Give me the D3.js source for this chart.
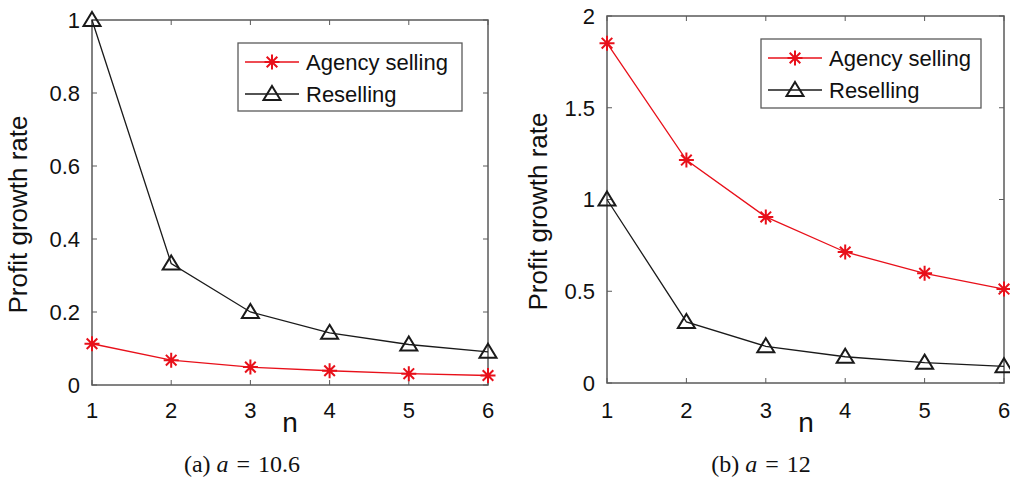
<!DOCTYPE html>
<html>
<head>
<meta charset="utf-8">
<script src="https://cdn.jsdelivr.net/npm/d3@7"></script>
<style>
  html, body { margin: 0; padding: 0; background: #fff; }
  svg { display: block; }
  text { font-family: "Liberation Sans", Arial, sans-serif; fill: #111; }
  .caption { font-family: "Liberation Serif", "DejaVu Serif", serif; }
</style>
</head>
<body>
<svg id="chart" width="1010" height="481"></svg>
<script>
// values
const nValues = [1, 2, 3, 4, 5, 6]
const seriesNames = ['Agency selling', 'Reselling']
const agencyA = [0.113, 0.068, 0.049, 0.039, 0.031, 0.026]
const resellA = [1, 0.333, 0.2, 0.143, 0.111, 0.091]
const agencyB = [1.852, 1.215, 0.905, 0.714, 0.598, 0.512]
const resellB = [1, 0.333, 0.2, 0.143, 0.111, 0.091]
const yTicksA = [0, 0.2, 0.4, 0.6, 0.8, 1]
const yTicksB = [0, 0.5, 1, 1.5, 2]
const captions = [['(a) ', 'a', '=', '10.6'], ['(b) ', 'a', '=', '12']]

const RED = '#e8101a'
const BLACK = '#1a1a1a'
const AXIS = '#5a5a5a'

const svg = d3.select('#chart')

function panel (opt) {
  const x = d3.scaleLinear().domain([1, 6]).range([opt.left, opt.right])
  const y = d3.scaleLinear().domain(opt.yDomain).range([opt.bottom, opt.top])
  const g = svg.append('g')

  // box + ticks
  g.append('rect')
    .attr('x', opt.left).attr('y', opt.top)
    .attr('width', opt.right - opt.left).attr('height', opt.bottom - opt.top)
    .attr('fill', 'none').attr('stroke', AXIS).attr('stroke-width', 1.5)

  const tl = 5
  nValues.forEach(v => {
    g.append('line').attr('x1', x(v)).attr('x2', x(v)).attr('y1', opt.bottom).attr('y2', opt.bottom - tl).attr('stroke', AXIS)
    g.append('line').attr('x1', x(v)).attr('x2', x(v)).attr('y1', opt.top).attr('y2', opt.top + tl).attr('stroke', AXIS)
    g.append('text').attr('x', x(v)).attr('y', 418).attr('text-anchor', 'middle')
      .style('font-size', '22px').text(v)
  })
  opt.yTicks.forEach(v => {
    g.append('line').attr('x1', opt.left).attr('x2', opt.left + tl).attr('y1', y(v)).attr('y2', y(v)).attr('stroke', AXIS)
    g.append('line').attr('x1', opt.right).attr('x2', opt.right - tl).attr('y1', y(v)).attr('y2', y(v)).attr('stroke', AXIS)
    g.append('text').attr('x', opt.left - opt.tickGap).attr('y', y(v)).attr('dy', '0.36em').attr('text-anchor', 'end')
      .style('font-size', '22px').text(d3.format('~g')(v))
  })

  // axis titles
  g.append('text').attr('transform', `translate(${opt.ylabX},${(opt.top + opt.bottom) / 2 + 12}) rotate(-90)`)
    .attr('text-anchor', 'middle').style('font-size', '26px').text('Profit growth rate')
  g.append('text').attr('x', opt.nX).attr('y', 432).attr('text-anchor', 'middle')
    .style('font-size', '28px').text('n')

  const line = d3.line().x((d, i) => x(nValues[i])).y(d => y(d))

  // reselling
  g.append('path').datum(opt.resell).attr('d', line)
    .attr('fill', 'none').attr('stroke', BLACK).attr('stroke-width', 1.3)
  g.selectAll('.tri').data(opt.resell).join('path').attr('class', 'tri')
    .attr('transform', (d, i) => `translate(${x(nValues[i])},${y(d)})`)
    .attr('d', triangle).attr('fill', 'none').attr('stroke', BLACK).attr('stroke-width', 2)

  // agency
  g.append('path').datum(opt.agency).attr('d', line)
    .attr('fill', 'none').attr('stroke', RED).attr('stroke-width', 1.3)
  g.selectAll('.star').data(opt.agency).join('path').attr('class', 'star')
    .attr('transform', (d, i) => `translate(${x(nValues[i])},${y(d)})`)
    .attr('d', star).attr('fill', 'none').attr('stroke', RED).attr('stroke-width', 2)

  // legend
  const lg = opt.legend
  g.append('rect').attr('x', lg.x).attr('y', lg.y).attr('width', lg.w).attr('height', lg.h)
    .attr('fill', '#fff').attr('stroke', AXIS).attr('stroke-width', 1.3)
  seriesNames.forEach((name, i) => {
    const ry = lg.y + 19 + i * 32
    const color = i === 0 ? RED : BLACK
    g.append('line').attr('x1', lg.x + 7).attr('x2', lg.x + 61).attr('y1', ry).attr('y2', ry)
      .attr('stroke', color).attr('stroke-width', 1.3)
    g.append('path').attr('transform', `translate(${lg.x + 34},${ry})`)
      .attr('d', i === 0 ? star : triangle).attr('fill', 'none')
      .attr('stroke', color).attr('stroke-width', 2)
    g.append('text').attr('x', lg.x + 68).attr('y', ry).attr('dy', '0.36em')
      .style('font-size', '22px').text(name)
  })

  // caption
  const c = g.append('text').attr('class', 'caption').attr('x', opt.capX).attr('y', 472)
    .attr('text-anchor', 'middle').style('font-size', '24px')
  c.append('tspan').text(opt.caption[0])
  c.append('tspan').style('font-style', 'italic').text(opt.caption[1])
  c.append('tspan').attr('dx', 8).text(opt.caption[2])
  c.append('tspan').attr('dx', 8).text(opt.caption[3])
}

function triangle () {
  return 'M0,-8L8.5,6L-8.5,6Z'
}
function star () {
  const r = 7.5, s = r * Math.SQRT1_2
  return `M${-r},0L${r},0M0,${-r}L0,${r}M${-s},${-s}L${s},${s}M${-s},${s}L${s},${-s}`
}

panel({
  left: 92, right: 488, top: 20, bottom: 385,
  yDomain: [0, 1], yTicks: yTicksA, tickGap: 12,
  agency: agencyA, resell: resellA,
  ylabX: 27, nX: 290, capX: 242,
  legend: { x: 238, y: 43, w: 224, h: 68 },
  caption: captions[0]
})

panel({
  left: 607, right: 1004, top: 16, bottom: 383,
  yDomain: [0, 2], yTicks: yTicksB, tickGap: 12,
  agency: agencyB, resell: resellB,
  ylabX: 547, nX: 806, capX: 761,
  legend: { x: 761, y: 39, w: 220, h: 69 },
  caption: captions[1]
})
</script>
</body>
</html>
